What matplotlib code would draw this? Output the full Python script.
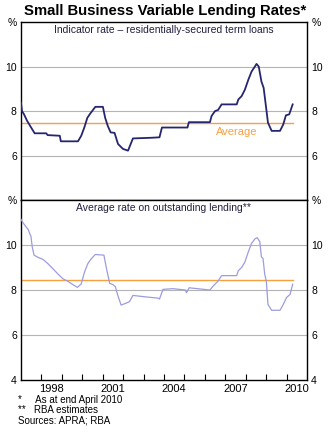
import numpy as np
import matplotlib.pyplot as plt

plt.rcParams["font.family"] = "Liberation Sans"

# Indicator rate - residentially-secured term loans (decimal years, %)
ind_x = [1997.0, 1997.05, 1997.15, 1997.3, 1997.45, 1997.67, 1998.24, 1998.3, 1998.9, 1998.95,
         1999.79, 1999.95, 2000.1, 2000.25, 2000.4, 2000.64, 2001.01, 2001.12, 2001.25, 2001.39,
         2001.58, 2001.75, 2001.99, 2002.24, 2002.48, 2003.38, 2003.78, 2003.9, 2005.15, 2005.22,
         2006.25, 2006.33, 2006.5, 2006.65, 2006.82, 2007.56, 2007.64, 2007.8, 2007.96, 2008.13,
         2008.29, 2008.45, 2008.53, 2008.64, 2008.77, 2008.88, 2008.98, 2009.09, 2009.27, 2009.68,
         2009.84, 2009.97, 2010.13, 2010.3]
ind_y = [8.37, 8.0, 7.85, 7.56, 7.33, 7.0, 7.0, 6.92, 6.89, 6.64,
         6.64, 6.89, 7.26, 7.7, 7.9, 8.19, 8.19, 7.7, 7.33, 7.04,
         7.02, 6.52, 6.3, 6.22, 6.77, 6.8, 6.82, 7.26, 7.26, 7.5,
         7.5, 7.78, 8.0, 8.05, 8.3, 8.3, 8.52, 8.67, 8.96, 9.41,
         9.78, 10.0, 10.12, 10.0, 9.33, 9.04, 8.3, 7.48, 7.11, 7.11,
         7.4, 7.81, 7.85, 8.3]
ind_avg = 7.46

# Average rate on outstanding lending (RBA estimates)
out_x = [1997.0, 1997.11, 1997.23, 1997.36, 1997.44, 1997.49, 1997.55, 1997.64, 1997.84, 1998.08,
         1998.32, 1998.56, 1998.8, 1999.05, 1999.29, 1999.54, 1999.76, 1999.95, 2000.11, 2000.27,
         2000.44, 2000.64, 2001.06, 2001.18, 2001.34, 2001.5, 2001.62, 2001.74, 2001.9, 2002.15,
         2002.31, 2002.48, 2003.05, 2003.7, 2003.78, 2003.95, 2004.44, 2005.05, 2005.1, 2005.23,
         2006.25, 2006.41, 2006.65, 2006.82, 2007.56, 2007.64, 2007.8, 2007.96, 2008.13, 2008.29,
         2008.45, 2008.56, 2008.69, 2008.77, 2008.85, 2008.93, 2009.01, 2009.09, 2009.27, 2009.68,
         2009.84, 2010.0, 2010.17, 2010.3]
out_y = [11.14, 10.98, 10.83, 10.68, 10.48, 10.38, 9.92, 9.55, 9.45, 9.36,
         9.17, 8.95, 8.72, 8.5, 8.39, 8.24, 8.12, 8.27, 8.8, 9.17,
         9.39, 9.58, 9.55, 8.98, 8.3, 8.24, 8.15, 7.76, 7.33, 7.42,
         7.48, 7.76, 7.7, 7.64, 7.6, 8.03, 8.06, 8.0, 7.88, 8.1,
         8.0, 8.18, 8.4, 8.64, 8.64, 8.86, 9.0, 9.24, 9.7, 10.08,
         10.27, 10.33, 10.15, 9.47, 9.4, 8.71, 8.39, 7.36, 7.1, 7.1,
         7.36, 7.67, 7.8, 8.26]
out_avg = 8.45

year_labels = [1998, 2001, 2004, 2007, 2010]

navy = "#262670"
lavender = "#9c9ce0"
orange = "#f7a040"
grid_c = "#b4b4b4"

fig = plt.figure(figsize=(3.31, 4.33), dpi=100)
ax1 = fig.add_axes([0.0634, 0.538, 0.864, 0.411])
ax2 = fig.add_axes([0.0634, 0.1224, 0.864, 0.4156])

for ax in (ax1, ax2):
    ax.set_xlim(1997, 2011)
    ax.set_ylim(4, 12)
    for g in (6, 8, 10):
        ax.axhline(g, color=grid_c, lw=0.8, zorder=1)
    for s in ax.spines.values():
        s.set_linewidth(1.0)

ax1.set_yticks([6, 8, 10, 12])
ax1.set_yticklabels(["6", "8", "10", "%"])
ax2.set_yticks([4, 6, 8, 10, 12])
ax2.set_yticklabels(["4", "6", "8", "10", "%"])
for ax in (ax1, ax2):
    ax.tick_params(axis="y", length=0, labelsize=7.5, pad=3,
                   labelleft=True, labelright=True)

ax1.plot(ind_x, ind_y, color=navy, lw=1.3, zorder=3)
ax1.plot([ind_x[0], ind_x[-1]], [ind_avg, ind_avg], color=orange, lw=1.0, zorder=2)
ax1.text(2007.55, 7.04, "Average", color=orange, fontsize=8, ha="center", va="center")
ax1.text(0.5, 0.955, "Indicator rate \u2013 residentially-secured term loans",
         transform=ax1.transAxes, ha="center", va="center", fontsize=7.5, color="#202040")
ax1.set_xticks([])

ax2.plot(out_x, out_y, color=lavender, lw=0.9, zorder=3)
ax2.plot([out_x[0], out_x[-1]], [out_avg, out_avg], color=orange, lw=1.0, zorder=2)
ax2.text(0.5, 0.955, "Average rate on outstanding lending**",
         transform=ax2.transAxes, ha="center", va="center", fontsize=7.5, color="#202040")
ax2.set_xticks(np.arange(1998, 2011))
ax2.set_xticklabels([])
ax2.tick_params(axis="x", direction="in", length=4, width=0.8)
ax2.set_xticks([y + 0.5 for y in year_labels], minor=True)
ax2.set_xticklabels([str(y) for y in year_labels], minor=True, fontsize=8)
ax2.tick_params(axis="x", which="minor", length=0, pad=3)

fig.text(0.5, 0.975, "Small Business Variable Lending Rates*", ha="center", va="center",
         fontsize=10.7, fontweight="bold")
fig.text(0.055, 0.076, "*     As at end April 2010", fontsize=7, va="center")
fig.text(0.055, 0.053, "**   RBA estimates", fontsize=7, va="center")
fig.text(0.055, 0.03, "Sources: APRA; RBA", fontsize=7, va="center")

fig.savefig("out.png", dpi=100)
